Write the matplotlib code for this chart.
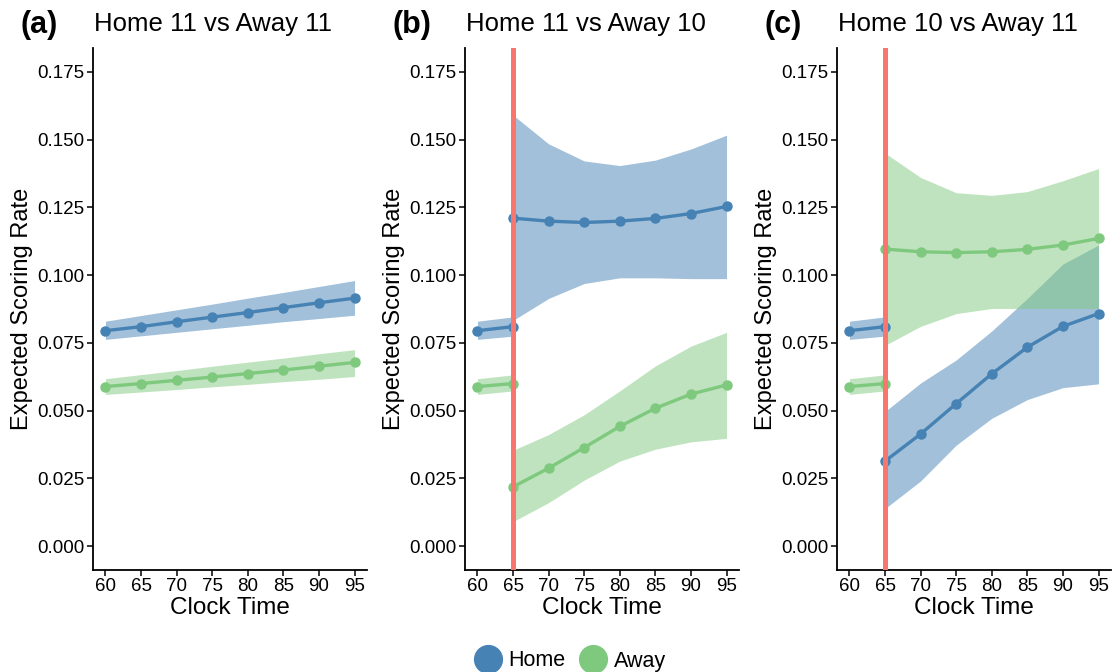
import numpy as np
import matplotlib
matplotlib.use("agg")
import matplotlib.pyplot as plt
from matplotlib.lines import Line2D

plt.rcParams['font.family'] = ['Liberation Sans', 'DejaVu Sans']

HOME_COL = "#4682B4"
AWAY_COL = "#7FC97F"
RED_COL = "#F8766D"

# ---- data ----
t_all = [60, 65, 70, 75, 80, 85, 90, 95]
t_pre = [60, 65]
t_post = [65, 70, 75, 80, 85, 90, 95]

# (a) Home 11 vs Away 11
a_home = [0.0795, 0.0810, 0.0828, 0.0845, 0.0862, 0.0880, 0.0898, 0.0915]
a_home_lo = [0.0763, 0.0776, 0.0789, 0.0802, 0.0815, 0.0828, 0.0840, 0.0852]
a_home_hi = [0.0830, 0.0851, 0.0872, 0.0893, 0.0915, 0.0936, 0.0958, 0.0980]
a_away = [0.0589, 0.0600, 0.0612, 0.0624, 0.0637, 0.0650, 0.0664, 0.0678]
a_away_lo = [0.0560, 0.0569, 0.0578, 0.0588, 0.0597, 0.0607, 0.0616, 0.0626]
a_away_hi = [0.0618, 0.0633, 0.0648, 0.0664, 0.0679, 0.0694, 0.0710, 0.0725]

# before the red card (same in b and c)
pre_home = [0.0795, 0.0810]
pre_home_lo = [0.0763, 0.0775]
pre_home_hi = [0.0830, 0.0846]
pre_away = [0.0589, 0.0600]
pre_away_lo = [0.0560, 0.0573]
pre_away_hi = [0.0618, 0.0632]

# (b) Home 11 vs Away 10, after 65'
b_home = [0.1210, 0.1199, 0.1194, 0.1199, 0.1209, 0.1227, 0.1253]
b_home_lo = [0.0833, 0.0914, 0.0969, 0.0990, 0.0990, 0.0987, 0.0987]
b_home_hi = [0.1590, 0.1484, 0.1421, 0.1404, 0.1424, 0.1465, 0.1516]
b_away = [0.0219, 0.0288, 0.0364, 0.0442, 0.0509, 0.0561, 0.0595]
b_away_lo = [0.0091, 0.0161, 0.0244, 0.0314, 0.0358, 0.0385, 0.0398]
b_away_hi = [0.0354, 0.0412, 0.0485, 0.0573, 0.0665, 0.0738, 0.0789]

# (c) Home 10 vs Away 11, after 65'
c_home = [0.0314, 0.0414, 0.0526, 0.0636, 0.0734, 0.0811, 0.0858]
c_home_lo = [0.0139, 0.0241, 0.0373, 0.0472, 0.0541, 0.0585, 0.0599]
c_home_hi = [0.0497, 0.0602, 0.0687, 0.0794, 0.0914, 0.1041, 0.1111]
c_away = [0.1096, 0.1086, 0.1083, 0.1086, 0.1095, 0.1111, 0.1135]
c_away_lo = [0.0741, 0.0811, 0.0858, 0.0877, 0.0877, 0.0877, 0.0877]
c_away_hi = [0.1450, 0.1360, 0.1304, 0.1294, 0.1308, 0.1348, 0.1393]

red_card_time = 65
yticks = [0.000, 0.025, 0.050, 0.075, 0.100, 0.125, 0.150, 0.175]


def draw_series(ax, t, y, lo, hi, col):
    ax.fill_between(t, lo, hi, color=col, alpha=0.5, lw=0)
    ax.plot(t, y, color=col, lw=2.4, marker="o", ms=6.5, solid_capstyle="round")


def style_axis(ax):
    ax.set_xlim(58.25, 96.75)
    ax.set_ylim(-0.00875, 0.18375)
    ax.set_xticks(t_all)
    ax.set_yticks(yticks)
    ax.set_yticklabels([f"{v:.3f}" for v in yticks])
    for s in ["top", "right"]:
        ax.spines[s].set_visible(False)
    for s in ["left", "bottom"]:
        ax.spines[s].set_linewidth(1.3)
    ax.tick_params(labelsize=13.5, length=4, width=1.1, colors="black", pad=2)
    ax.set_xlabel("Clock Time", fontsize=17.5, labelpad=1)
    ax.set_ylabel("Expected Scoring Rate", fontsize=17, labelpad=3)


fig = plt.figure(figsize=(11.14, 6.72), dpi=100)
lefts = [93, 465, 837]
axes = [fig.add_axes([l / 1114, 1 - 570 / 672, 274 / 1114, 522 / 672]) for l in lefts]

ax = axes[0]
draw_series(ax, t_all, a_home, a_home_lo, a_home_hi, HOME_COL)
draw_series(ax, t_all, a_away, a_away_lo, a_away_hi, AWAY_COL)

ax = axes[1]
draw_series(ax, t_pre, pre_home, pre_home_lo, pre_home_hi, HOME_COL)
draw_series(ax, t_pre, pre_away, pre_away_lo, pre_away_hi, AWAY_COL)
draw_series(ax, t_post, b_home, b_home_lo, b_home_hi, HOME_COL)
draw_series(ax, t_post, b_away, b_away_lo, b_away_hi, AWAY_COL)

ax = axes[2]
draw_series(ax, t_pre, pre_home, pre_home_lo, pre_home_hi, HOME_COL)
draw_series(ax, t_pre, pre_away, pre_away_lo, pre_away_hi, AWAY_COL)
draw_series(ax, t_post, c_home, c_home_lo, c_home_hi, HOME_COL)
draw_series(ax, t_post, c_away, c_away_lo, c_away_hi, AWAY_COL)

for ax in axes[1:]:
    ax.axvline(red_card_time, color=RED_COL, lw=3.6, zorder=5)

tags = ["(a)", "(b)", "(c)"]
titles = ["Home 11 vs Away 11", "Home 11 vs Away 10", "Home 10 vs Away 11"]
for ax, l, tag, title in zip(axes, lefts, tags, titles):
    style_axis(ax)
    fig.text((l - 72) / 1114, 1 - 25 / 672, tag, fontsize=22, fontweight="bold", va="center", ha="left")
    fig.text((l + 1) / 1114, 1 - 24 / 672, title, fontsize=18.5, va="center", ha="left")

handles = [Line2D([], [], ls="none", marker="o", ms=20, color=HOME_COL, label="Home"),
           Line2D([], [], ls="none", marker="o", ms=20, color=AWAY_COL, label="Away")]
fig.legend(handles=handles, loc="center", bbox_to_anchor=(0.512, 1 - 661 / 672), ncol=2,
           frameon=False, fontsize=15.5, handletextpad=0.35, columnspacing=0.7, handlelength=1.2)

fig.savefig("out.png", dpi=100)
